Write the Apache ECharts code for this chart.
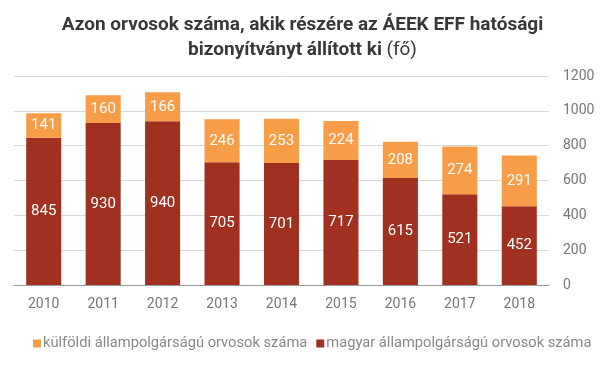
<!DOCTYPE html>
<html>
<head>
<meta charset="utf-8">
<script src="https://cdn.jsdelivr.net/npm/echarts@6/dist/echarts.min.js"></script>
<style>
  html, body { margin: 0; padding: 0; background: #fff; }
  #chart { width: 605px; height: 378px; }
</style>
</head>
<body>
<div id="chart"></div>
<script>
const years = ['2010', '2011', '2012', '2013', '2014', '2015', '2016', '2017', '2018'];
const magyar = [845, 930, 940, 705, 701, 717, 615, 521, 452];
const kulfoldi = [141, 160, 166, 246, 253, 224, 208, 274, 291];
const yTicks = [0, 200, 400, 600, 800, 1000, 1200];

const chart = echarts.init(document.getElementById('chart'));

const labelStyle = {
  show: true,
  position: 'inside',
  color: '#fff',
  fontFamily: 'Roboto',
  fontSize: 15
};

chart.setOption({
  animation: false,
  textStyle: { fontFamily: 'Roboto' },
  title: {
    text: '{b|Azon orvosok száma, akik részére az ÁEEK EFF hatósági}\n{b|bizonyítványt állított ki} {n|(fő)}',
    left: 'center',
    top: 8,
    textStyle: {
      rich: {
        b: { fontFamily: 'Roboto', fontWeight: 'bold', fontSize: 19, color: '#383838', lineHeight: 25 },
        n: { fontFamily: 'Roboto', fontWeight: 'normal', fontSize: 19, color: '#383838', lineHeight: 25 }
      }
    }
  },
  legend: {
    data: ['külföldi állampolgárságú orvosok száma', 'magyar állampolgárságú orvosok száma'],
    bottom: 22,
    left: 28,
    itemWidth: 8,
    itemHeight: 8,
    itemGap: 9,
    icon: 'rect',
    textStyle: { color: '#888', fontSize: 14.7, fontFamily: 'Roboto', padding: [0, 0, 0, -3] }
  },
  grid: { left: 14, right: 56, top: 76, bottom: 93, containLabel: false },
  xAxis: {
    type: 'category',
    data: years,
    axisLine: { lineStyle: { color: '#999' } },
    axisTick: { show: false },
    axisLabel: { color: '#777', fontSize: 14, margin: 12 }
  },
  yAxis: {
    type: 'value',
    position: 'right',
    min: yTicks[0],
    max: yTicks[yTicks.length - 1],
    interval: 200,
    splitLine: { lineStyle: { color: '#d9d9d9' } },
    axisLine: { show: false },
    axisTick: { show: false },
    axisLabel: { color: '#777', fontSize: 14, margin: 14, formatter: v => String(v) }
  },
  series: [
    {
      name: 'magyar állampolgárságú orvosok száma',
      type: 'bar',
      stack: 'total',
      barWidth: '59%',
      data: magyar,
      itemStyle: { color: '#a03121' },
      label: labelStyle
    },
    {
      name: 'külföldi állampolgárságú orvosok száma',
      type: 'bar',
      stack: 'total',
      barWidth: '59%',
      data: kulfoldi,
      itemStyle: { color: '#f79c47' },
      label: labelStyle
    }
  ]
});
</script>
</body>
</html>
